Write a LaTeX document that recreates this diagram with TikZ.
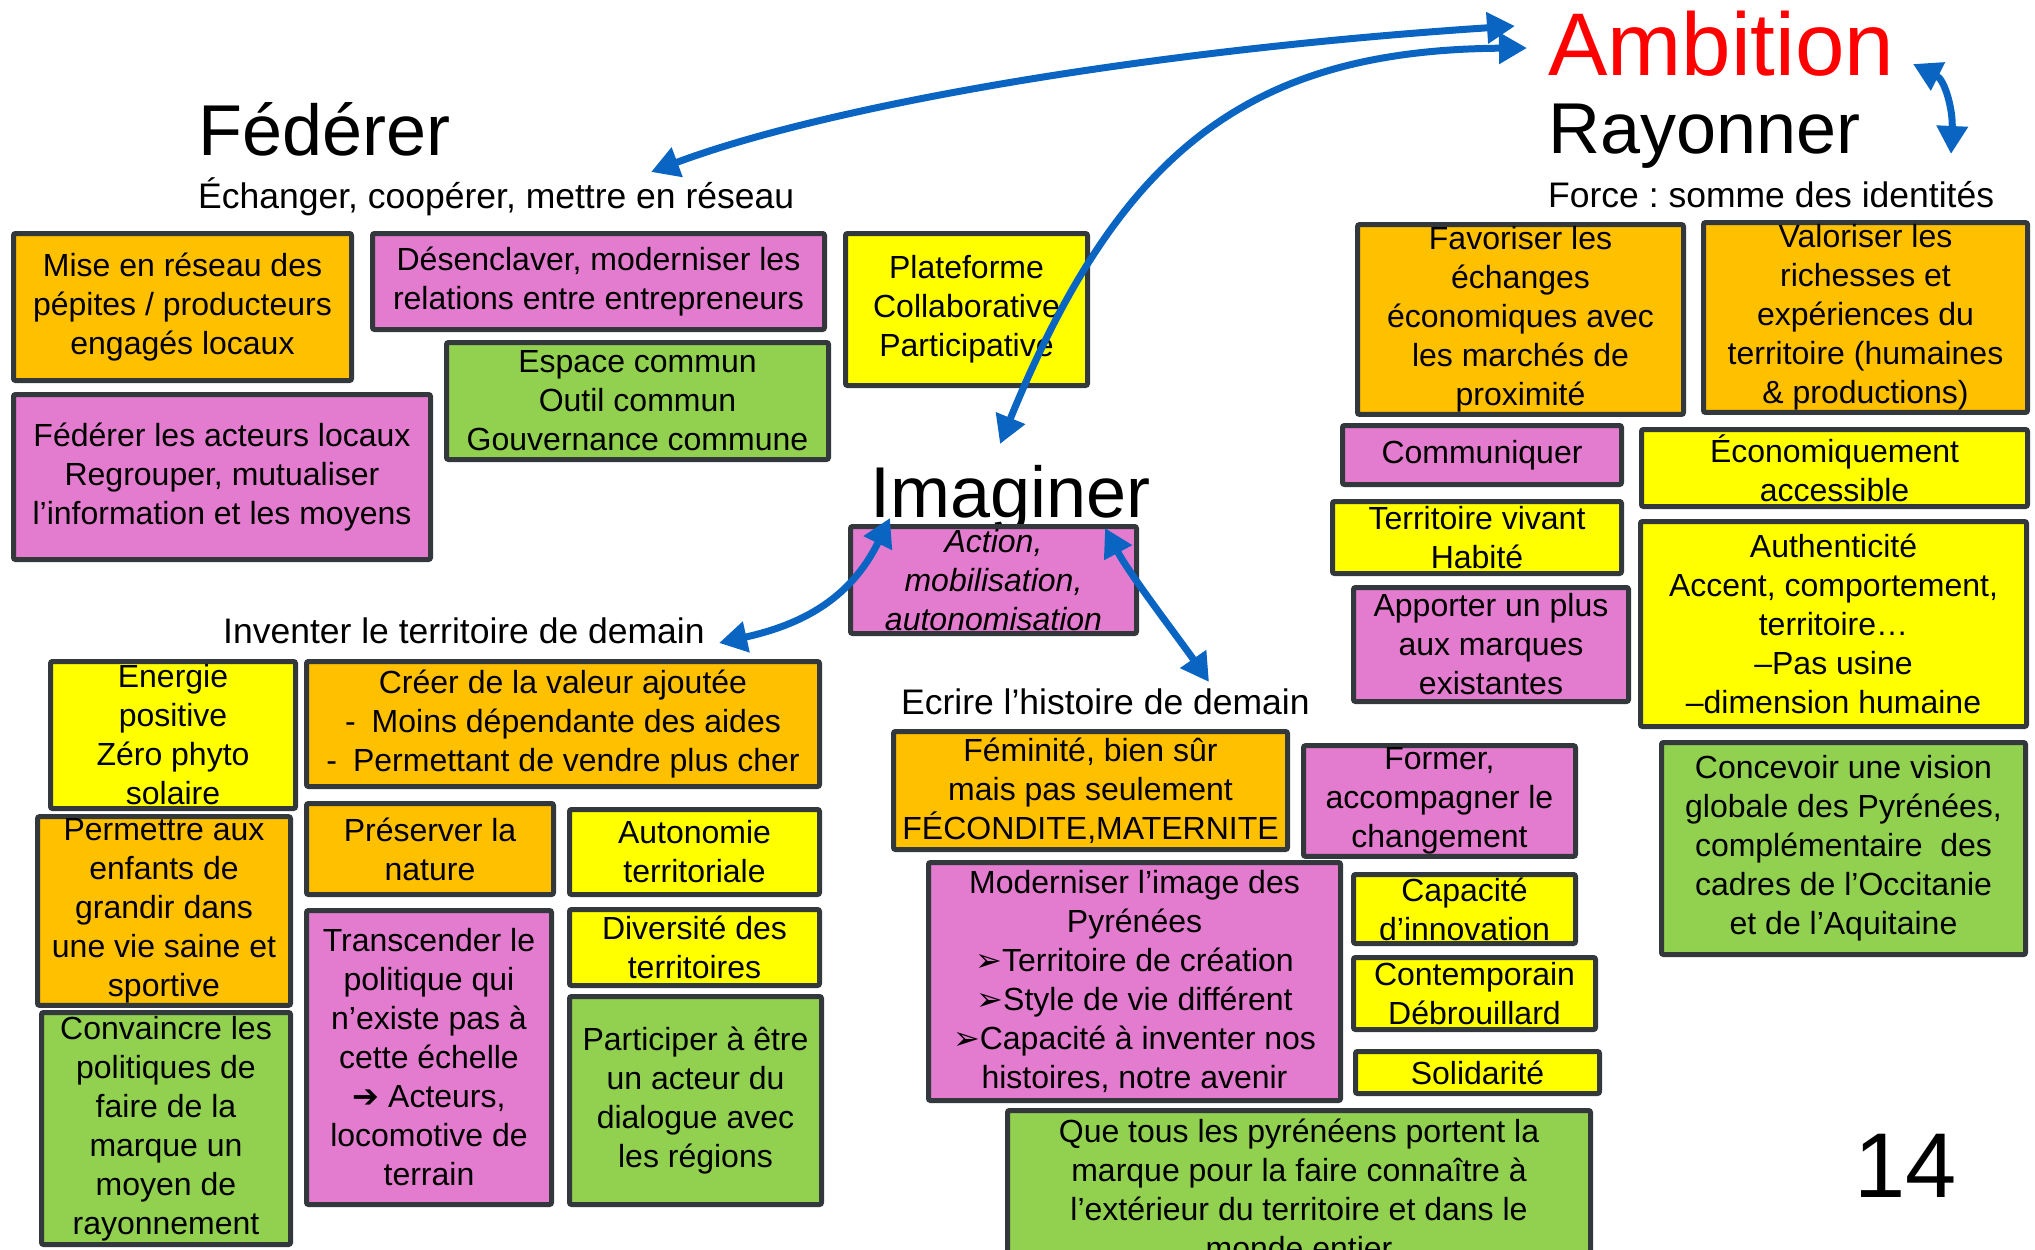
\documentclass[tikz,border=0pt]{standalone}
\usepackage{fontspec}
\setmainfont{Liberation Sans}
\newfontfamily\symbfont{DejaVu Sans}
\usetikzlibrary{arrows.meta}
\frenchspacing

\definecolor{boxorange}{HTML}{FFC000}
\definecolor{boxpink}{HTML}{E37BCF}
\definecolor{boxyellow}{HTML}{FFFF00}
\definecolor{boxgreen}{HTML}{92D050}
\definecolor{boxline}{HTML}{33383D}
\definecolor{flowblue}{HTML}{0A64C2}

\begin{document}
\begin{tikzpicture}[x=1pt,y=-1pt,
  box/.style={draw=boxline, line width=5pt, rounded corners=2pt, inner sep=2pt,
    align=center, font=\fontsize{32}{39}\selectfont},
  orangebox/.style={box, fill=boxorange},
  pinkbox/.style={box, fill=boxpink},
  yellowbox/.style={box, fill=boxyellow},
  greenbox/.style={box, fill=boxgreen},
  dims/.style 2 args={minimum width=#1pt, minimum height=#2pt},
  title/.style={anchor=base west, inner sep=0pt, font=\fontsize{72}{80}\selectfont},
  subtitle/.style={anchor=base west, inner sep=0pt, font=\fontsize{35.5}{40}\selectfont},
  flow/.style={<->, line width=7pt, draw=flowblue, >={Triangle[length=28pt,width=30pt]}}]

\path[use as bounding box] (0,0) rectangle (2035,1250);
\clip (0,0) rectangle (2035,1250);

% Titles
\node[title, font=\fontsize{89}{95}\selectfont, text=red] (ambition) at (1548,75) {Ambition};
\node[title] (rayonner) at (1548,153) {Rayonner};
\node[subtitle] (force) at (1548,207) {Force : somme des identités};
\node[title] (federer) at (198,155) {Fédérer};
\node[subtitle] (echanger) at (198,208) {Échanger, coopérer, mettre en réseau};
\node[title] (imaginer) at (870,517) {Imaginer};
\node[subtitle] (inventer) at (223,643) {Inventer le territoire de demain};
\node[subtitle] (ecrire) at (901,714) {Ecrire l’histoire de demain};
\node[title, font=\fontsize{92}{96}\selectfont] (pagenum) at (1854,1197) {14};

% Federer
\node[orangebox, dims={338}{147}] (mise) at (182.5,307) {Mise en réseau des\\pépites / producteurs\\engagés locaux};
\node[pinkbox, dims={452}{96}] (desenclaver) at (598.5,281.5) {Désenclaver, moderniser les\\relations entre entrepreneurs};
\node[yellowbox, dims={242}{152}] (plateforme) at (966.5,309.5) {Plateforme\\Collaborative\\Participative};
\node[greenbox, dims={382}{117}] (espace) at (637.5,401) {Espace commun\\Outil commun\\Gouvernance commune};
\node[pinkbox, dims={417}{165}] (acteurs) at (222,477) {Fédérer les acteurs locaux\\Regrouper, mutualiser\\l’information et les moyens};

% Imaginer
\node[pinkbox, dims={286}{107}, font=\fontsize{32}{39}\selectfont\itshape] (action) at (993.5,580) {Action,\\mobilisation,\\autonomisation};

% Inventer le territoire de demain
\node[yellowbox, dims={245}{147}] (energie) at (173,735) {Energie\\positive\\Zéro phyto\\solaire};
\node[orangebox, dims={513}{125}] (creer) at (563,724) {Créer de la valeur ajoutée\\-\enspace Moins dépendante des aides\\-\enspace Permettant de vendre plus cher};
\node[orangebox, dims={253}{179}] (permettre) at (164,911) {Permettre aux\\enfants de\\grandir dans\\une vie saine et\\sportive};
\node[orangebox, dims={247}{91}] (preserver) at (430,849) {Préserver la\\nature};
\node[yellowbox, dims={250}{85}] (autonomie) at (694.5,852) {Autonomie\\territoriale};
\node[pinkbox, dims={245}{294}] (transcender) at (429,1057.5) {Transcender le\\politique qui\\n’existe pas à\\cette échelle\\{\symbfont\bfseries ➔} Acteurs,\\locomotive de\\terrain};
\node[yellowbox, dims={250}{76}] (diversite) at (694.5,947.5) {Diversité des\\territoires};
\node[greenbox, dims={249}{232}] (convaincre) at (166,1128.5) {Convaincre les\\politiques de\\faire de la\\marque un\\moyen de\\rayonnement};
\node[greenbox, dims={252}{208}] (participer) at (695.5,1100.5) {Participer à être\\un acteur du\\dialogue avec\\les régions};

% Ecrire l'histoire de demain
\node[orangebox, dims={394}{118}] (feminite) at (1090.5,790.5) {Féminité, bien sûr\\mais pas seulement\\FÉCONDITE,MATERNITE};
\node[pinkbox, dims={272}{103}] (former) at (1439.5,801) {Former,\\accompagner le\\changement};
\node[pinkbox, dims={412}{238}] (moderniser) at (1134.5,981.5) {Moderniser l’image des\\Pyrénées\\{\symbfont ➢}Territoire de création\\{\symbfont ➢}Style de vie différent\\{\symbfont ➢}Capacité à inventer nos\\histoires, notre avenir};
\node[yellowbox, dims={222}{69}] (capacite) at (1464.5,909) {Capacité\\d’innovation};
\node[yellowbox, dims={242}{72}] (contemporain) at (1474.5,993.5) {Contemporain\\Débrouillard};
\node[yellowbox, dims={244}{42}] (solidarite) at (1477.5,1072.5) {Solidarité};
\node[greenbox, dims={583}{157}] (quetous) at (1299,1189) {Que tous les pyrénéens portent la\\marque pour la faire connaître à\\l’extérieur du territoire et dans le\\monde entier};

% Rayonner
\node[orangebox, dims={326}{186}] (favoriser) at (1520.5,319.5) {Favoriser les\\échanges\\économiques avec\\les marchés de\\proximité};
\node[orangebox, dims={324}{186}] (valoriser) at (1865.5,317.5) {Valoriser les\\richesses et\\expériences du\\territoire (humaines\\\& productions)};
\node[pinkbox, dims={279}{59}] (communiquer) at (1482,455) {Communiquer};
\node[yellowbox, dims={386}{77}] (economiquement) at (1834.5,468) {Économiquement\\accessible};
\node[yellowbox, dims={289}{72}] (vivant) at (1477,537.5) {Territoire vivant\\Habité};
\node[yellowbox, dims={386}{205}] (authenticite) at (1833.5,624) {Authenticité\\Accent, comportement,\\territoire…\\–Pas usine\\–dimension humaine};
\node[pinkbox, dims={275}{114}] (apporter) at (1491,644.5) {Apporter un plus\\aux marques\\existantes};
\node[greenbox, dims={364}{212}] (concevoir) at (1843.5,848.5) {Concevoir une vision\\globale des Pyrénées,\\complémentaire\ \ des\\cadres de l’Occitanie\\et de l’Aquitaine};

% arrow ends
\coordinate (tipFed) at (651,172);
\coordinate (tipAmbA) at (1515,26);
\coordinate (tipAmbB) at (1527,48);
\coordinate (tipImag) at (1000,444);
\coordinate (tipRayTop) at (1913,64);
\coordinate (tipRayBot) at (1951,154);
\coordinate (tipActL) at (890,518);
\coordinate (tipInv) at (719,643);
\coordinate (tipActR) at (1105,528);
\coordinate (tipEcr) at (1209,682);

% Draw the arrows
\draw[flow] (tipFed) .. controls (830,105) and (1150,50) .. (tipAmbA);
\draw[flow] (tipAmbB) .. controls (1250,50) and (1120,150) .. (tipImag);
\draw[flow] (tipRayTop) .. controls (1945,80) and (1953,110) .. (tipRayBot);
\draw[flow] (tipInv) .. controls (800,625) and (850,600) .. (tipActL);
\draw[flow] (tipActR) .. controls (1130,575) and (1180,640) .. (tipEcr);

\end{tikzpicture}
\end{document}
